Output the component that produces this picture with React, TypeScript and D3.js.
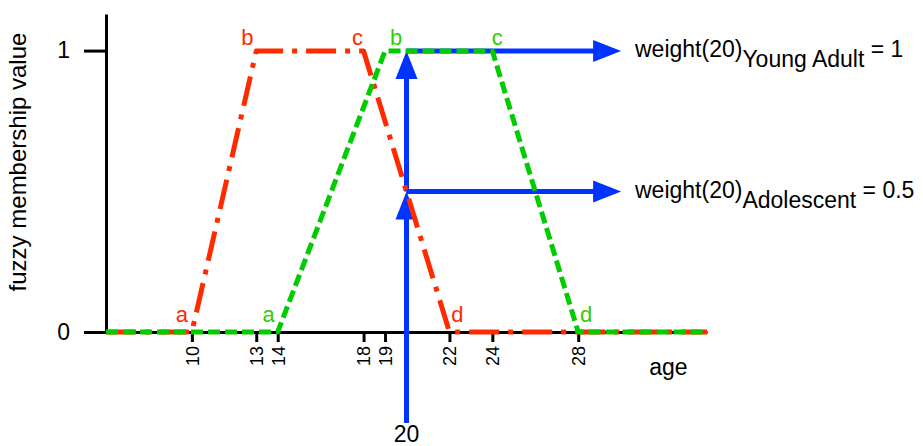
import React, { useEffect, useRef } from 'react';
import * as d3 from 'd3';

// membership functions (age -> membership)
const adolescentAge = [6, 10, 13, 18, 22, 34];
const adolescentVal = [0, 0, 1, 1, 0, 0];
const youngAdultAge = [6, 14, 19, 24, 28, 34];
const youngAdultVal = [0, 0, 1, 1, 0, 0];
const cornerNames = ['a', 'b', 'c', 'd'];
const ageTicks = [10, 13, 14, 18, 19, 22, 24, 28];
const valueTicks = [0, 1];
const queryAge = 20;
const weightNames = ['Young Adult', 'Adolescent'];
const weightValues = [1, 0.5];
const weightText = ['1', '0.5'];

const RED = '#ff2a00';
const GREEN = '#00cc00';
const GREEN_TXT = '#33cc00';
const BLUE = '#0033ff';
const FONT = '"Liberation Sans", Arial, Helvetica, sans-serif';

const App = () => {
    const ref = useRef<SVGSVGElement>(null);

    useEffect(() => {
        const width = 923;
        const height = 446;
        const svg = d3.select(ref.current).attr('width', width).attr('height', height);
        svg.selectAll('*').remove();

        const x = d3.scaleLinear().domain([6, 34]).range([106, 707]);
        const y = d3.scaleLinear().domain([0, 1]).range([332, 51]);

        // axes
        const xAxis = svg.append('g')
            .attr('transform', `translate(0,${y(0)})`)
            .call(d3.axisBottom(x).tickValues(ageTicks).tickSize(10).tickSizeOuter(0).tickFormat(d3.format('d')));
        xAxis.select('.domain').attr('stroke', 'black').attr('stroke-width', 3);
        xAxis.selectAll('.tick line').attr('stroke', 'black').attr('stroke-width', 3);
        xAxis.selectAll('.tick text')
            .attr('transform', 'rotate(-90)')
            .attr('x', -14)
            .attr('y', 0)
            .attr('dy', '0.35em')
            .attr('text-anchor', 'end')
            .attr('fill', 'black')
            .style('font-family', FONT)
            .style('font-size', '18px');

        const yAxis = svg.append('g')
            .attr('transform', `translate(${x(6)},0)`)
            .call(d3.axisLeft(y.copy().domain([0, 1.13]).range([332, 14]))
                .tickValues(valueTicks).tickSize(22).tickSizeOuter(0).tickPadding(14).tickFormat(d3.format('d')));
        yAxis.select('.domain').attr('stroke', 'black').attr('stroke-width', 3);
        yAxis.selectAll('.tick line').attr('stroke', 'black').attr('stroke-width', 3);
        yAxis.selectAll('.tick text')
            .attr('fill', 'black')
            .style('font-family', FONT)
            .style('font-size', '23px');

        svg.append('text')
            .attr('transform', `translate(26,${(y(0) + 14) / 2 - 11}) rotate(-90)`)
            .attr('text-anchor', 'middle')
            .style('font-family', FONT)
            .style('font-size', '24px')
            .text('fuzzy membership value');

        svg.append('text')
            .attr('x', x(32.2))
            .attr('y', 375)
            .attr('text-anchor', 'middle')
            .style('font-family', FONT)
            .style('font-size', '23px')
            .text('age');

        // blue arrows
        const arrow = (x1: number, y1: number, x2: number, y2: number) => {
            const len = Math.hypot(x2 - x1, y2 - y1);
            const ux = (x2 - x1) / len, uy = (y2 - y1) / len;
            const hl = 28, hw = 11;
            const bx = x2 - ux * hl, by = y2 - uy * hl;
            svg.append('line')
                .attr('x1', x1).attr('y1', y1).attr('x2', bx + ux * 2).attr('y2', by + uy * 2)
                .attr('stroke', BLUE).attr('stroke-width', 5);
            svg.append('polygon')
                .attr('points', [[x2, y2], [bx - uy * hw, by + ux * hw], [bx + uy * hw, by - ux * hw]].map(p => p.join(',')).join(' '))
                .attr('fill', BLUE);
        };
        arrow(x(queryAge), y(-0.324), x(queryAge), y(weightValues[1]));
        arrow(x(queryAge), y(weightValues[1]), x(queryAge), y(weightValues[0]));
        weightValues.forEach(w => arrow(x(queryAge), y(w), x(30), y(w)));

        svg.append('text')
            .attr('x', x(queryAge))
            .attr('y', 442)
            .attr('text-anchor', 'middle')
            .style('font-family', FONT)
            .style('font-size', '23px')
            .text(String(queryAge));

        weightValues.forEach((w, i) => {
            const t = svg.append('text')
                .attr('x', 635)
                .attr('y', y(w) + 6)
                .style('font-family', FONT)
                .style('font-size', '23px');
            t.append('tspan').text(`weight(${queryAge})`);
            t.append('tspan').attr('dy', 10).text(weightNames[i]);
            t.append('tspan').attr('dy', -10).text(` = ${weightText[i]}`);
        });

        // membership lines
        const line = d3.line<number>().x(d => x(d[0])).y(d => y(d[1]));
        const red = adolescentAge.map((a, i) => [a, adolescentVal[i]]);
        const green = youngAdultAge.map((a, i) => [a, youngAdultVal[i]]);

        svg.append('path')
            .attr('d', line(red as any))
            .attr('fill', 'none')
            .attr('stroke', RED)
            .attr('stroke-width', 5)
            .attr('stroke-dasharray', '30 9 5 9')
            .attr('stroke-linejoin', 'round');

        svg.append('path')
            .attr('d', line(green as any))
            .attr('fill', 'none')
            .attr('stroke', GREEN)
            .attr('stroke-width', 5)
            .attr('stroke-dasharray', '12 5')
            .attr('stroke-linejoin', 'round');

        // corner labels
        const redDx = [-10, -9, -6, 8];
        const greenDx = [-9, 11, 5, 8];
        const corner = (pts: number[][], dxs: number[], color: string) => {
            cornerNames.forEach((n, i) => {
                const p = pts[i + 1];
                svg.append('text')
                    .attr('x', x(p[0]) + dxs[i])
                    .attr('y', p[1] === 1 ? y(1) - 6 : y(0) - 10)
                    .attr('text-anchor', 'middle')
                    .attr('fill', color)
                    .style('font-family', FONT)
                    .style('font-size', '22px')
                    .text(n);
            });
        };
        corner(red, redDx, RED);
        corner(green, greenDx, GREEN_TXT);
    }, []);

    return (
        <svg ref={ref} style={{ position: 'absolute', left: 0, top: 0, background: 'white' }}></svg>
    );
};

export default App;
